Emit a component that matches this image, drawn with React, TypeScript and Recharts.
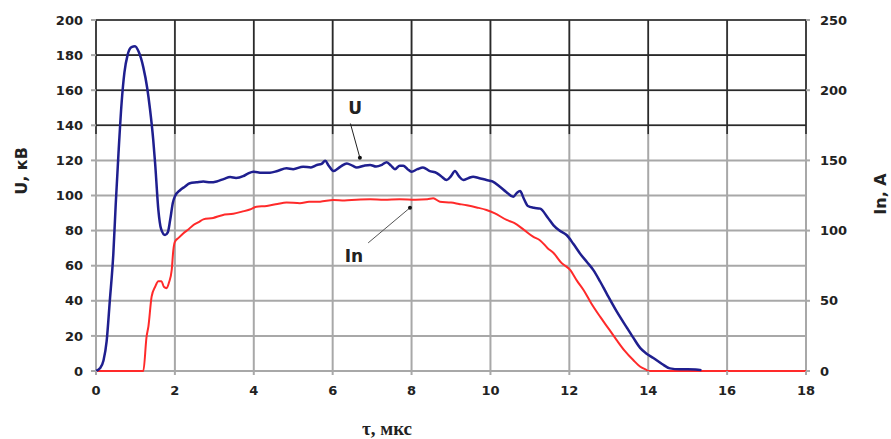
import React from 'react';
import {
  LineChart, Line, XAxis, YAxis, CartesianGrid, ReferenceLine, ReferenceDot,
} from 'recharts';

// ---- data ----
const uTime = [
  0, 0.1, 0.19, 0.27, 0.35, 0.44, 0.5, 0.57, 0.65, 0.72, 0.8, 0.9, 0.99, 1.08, 1.2, 1.3, 1.37, 1.45, 1.5, 1.58,
  1.65, 1.75, 1.82, 1.88, 1.95, 2.0, 2.13, 2.25, 2.38, 2.55, 2.72, 2.9, 3.06, 3.25, 3.4, 3.55, 3.73, 3.85, 3.99, 4.2,
  4.41, 4.6, 4.83, 5.0, 5.25, 5.45, 5.6, 5.72, 5.81, 5.9, 6.02, 6.2, 6.36, 6.5, 6.61, 6.8, 6.95, 7.1, 7.25, 7.37,
  7.48, 7.58, 7.7, 7.79, 7.9, 8.0, 8.15, 8.29, 8.45, 8.64, 8.75, 8.89, 9.0, 9.1, 9.2, 9.31, 9.45, 9.56, 9.7, 9.9,
  10.05, 10.24, 10.4, 10.58, 10.67, 10.75, 10.85, 10.95, 11.1, 11.26, 11.45, 11.6, 11.75, 11.93, 12.1, 12.27, 12.45,
  12.61, 12.78, 12.95, 13.2, 13.45, 13.62, 13.8, 13.95, 14.13, 14.35, 14.55, 14.8, 15.0, 15.2, 15.35,
];
const uValues = [
  0, 1.5, 6, 17, 40, 67, 95, 124, 153, 170, 180, 184.5, 185, 182, 173, 161, 149, 132, 118, 92,
  81, 77.5, 79, 86, 96, 99.5, 103, 105, 107, 107.5, 108, 107.5, 108, 109.5, 110.5, 110, 111, 112.5, 113.6, 113,
  113, 114, 115.5, 115, 116.4, 116, 117.4, 118, 119.8, 117, 114, 116.5, 118.3, 117, 116, 117, 117.4, 116.5, 117.5, 119,
  117, 115, 117, 117, 115, 113.6, 115, 116, 114, 112.8, 111, 108.8, 111, 114, 111, 108.8, 110, 110.7, 110, 108.8,
  108, 105, 102, 99.3, 101.5, 102.5, 98, 94, 93, 92.5, 87.5, 83, 80, 77.5, 72.5, 67, 62,
  57.5, 51, 44, 34, 25, 19, 13, 10, 7.4, 4, 1.5, 1, 1, 0.8, 0.5,
];

const inTime = [
  0, 1.2, 1.28, 1.33, 1.41, 1.5, 1.58, 1.66, 1.72, 1.79, 1.85, 1.92, 1.96, 2.0, 2.1, 2.21, 2.35, 2.47, 2.6, 2.72,
  2.97, 3.2, 3.48, 3.7, 3.9, 4.07, 4.33, 4.6, 4.83, 5.17, 5.4, 5.68, 6.02, 6.3, 6.6, 6.95, 7.3, 7.7, 8.1, 8.4,
  8.55, 8.72, 9.0, 9.2, 9.4, 9.65, 9.9, 10.1, 10.41, 10.6, 10.85, 11.08, 11.26, 11.45, 11.6, 11.8, 12.02, 12.2, 12.36,
  12.55, 12.78, 13.0, 13.2, 13.4, 13.62, 13.8, 13.96, 14.0, 18,
];
const inValues = [
  0, 0, 24, 32, 53, 60, 64, 64, 60, 59, 63, 72, 86, 92, 95, 98, 101, 104, 106, 108,
  109, 111, 112, 113.5, 115, 117, 117.5, 119, 120, 119.5, 120.5, 120.6, 121.8, 121.5, 122, 122.3, 122, 122.3, 122, 122.3,
  123, 120.6, 120, 119, 118, 116.5, 114.7, 112.5, 107.6, 105.5, 100.5, 95.7, 93, 87.5, 84, 77, 72, 64, 57.7,
  48.5, 38.7, 30, 22, 14.5, 7.8, 3, 0.7, 0, 0,
];

const xTicks = [0, 2, 4, 6, 8, 10, 12, 14, 16, 18];
const leftTicks = [0, 20, 40, 60, 80, 100, 120, 140, 160, 180, 200];
const rightTicks = [0, 50, 100, 150, 200, 250];
const darkGridLevels = [140, 160, 180, 200];
const darkGridFrom = 135;

const uLabel = { t: 6.57, v: 150, text: 'U' };
const uArrow = { from: { t: 6.45, v: 141 }, to: { t: 6.69, v: 121.5 } };
const inLabel = { t: 6.54, v: 65.5, text: 'In' };
const inArrow = { from: { t: 6.9, v: 73 }, to: { t: 7.96, v: 93 } };

const uData = uTime.map((t, i) => ({ t, u: uValues[i] }));
const inData = inTime.map((t, i) => ({ t, i: inValues[i] }));

const tickFont = { fontFamily: 'DejaVu Sans', fontWeight: 'bold', fontSize: 13, fill: '#222' };
const gridGrey = '#a8a8a8';
const gridDark = '#2a2a2a';

export default function App() {
  return (
    <div style={{ position: 'absolute', left: 0, top: 0, width: 891, height: 439, background: '#fff' }}>
      <LineChart width={891} height={439} margin={{ top: 20, right: 0, bottom: 0, left: 0 }}>
        <CartesianGrid
          yAxisId="left"
          stroke={gridGrey}
          strokeWidth={2}
          horizontalValues={leftTicks}
          verticalValues={xTicks}
        />
        <XAxis
          dataKey="t"
          type="number"
          domain={[0, 18]}
          ticks={xTicks}
          height={68}
          tickSize={4}
          tickMargin={11}
          tick={tickFont}
          axisLine={false}
          tickLine={{ stroke: gridGrey, strokeWidth: 2 }}
          allowDuplicatedCategory={false}
        />
        <YAxis
          yAxisId="left"
          domain={[0, 200]}
          ticks={leftTicks}
          width={96}
          tickSize={5}
          tickMargin={8}
          tick={tickFont}
          axisLine={false}
          tickLine={{ stroke: gridGrey, strokeWidth: 2 }}
          label={{
            content: () => (
              <text
                x={21}
                y={171}
                transform="rotate(-90 21 171)"
                textAnchor="middle"
                dominantBaseline="central"
                style={{ fontFamily: 'DejaVu Sans', fontWeight: 'bold', fontSize: 16, fill: '#222' }}
              >
                U, кВ
              </text>
            ),
          }}
        />
        <YAxis
          yAxisId="right"
          orientation="right"
          domain={[0, 250]}
          ticks={rightTicks}
          width={85}
          tickSize={4}
          tickMargin={10}
          tick={tickFont}
          axisLine={false}
          tickLine={{ stroke: gridGrey, strokeWidth: 2 }}
          label={{
            content: () => (
              <text
                x={880}
                y={194}
                transform="rotate(-90 880 194)"
                textAnchor="middle"
                dominantBaseline="central"
                style={{ fontFamily: 'DejaVu Sans', fontWeight: 'bold', fontSize: 16, fill: '#222' }}
              >
                In, A
              </text>
            ),
          }}
        />
        {darkGridLevels.map((lv) => (
          <ReferenceLine key={'h' + lv} yAxisId="left" y={lv} stroke={gridDark} strokeWidth={1.6} />
        ))}
        {xTicks.map((x) => (
          <ReferenceLine
            key={'v' + x}
            yAxisId="left"
            segment={[{ x, y: darkGridFrom }, { x, y: 200 }]}
            stroke={gridDark}
            strokeWidth={1.6}
          />
        ))}
        <Line
          yAxisId="right"
          data={inData}
          dataKey="i"
          type="monotone"
          stroke="#ff2a2a"
          strokeWidth={2}
          dot={false}
          isAnimationActive={false}
        />
        <Line
          yAxisId="left"
          data={uData}
          dataKey="u"
          type="monotone"
          stroke="#1f1f8f"
          strokeWidth={2.5}
          dot={false}
          isAnimationActive={false}
        />
        <ReferenceLine
          yAxisId="left"
          segment={[{ x: uArrow.from.t, y: uArrow.from.v }, { x: uArrow.to.t, y: uArrow.to.v }]}
          stroke="#222"
          strokeWidth={1}
        />
        <ReferenceDot yAxisId="left" x={uArrow.to.t} y={uArrow.to.v} r={2} fill="#111" stroke="none" />
        <ReferenceLine
          yAxisId="left"
          segment={[{ x: inArrow.from.t, y: inArrow.from.v }, { x: inArrow.to.t, y: inArrow.to.v }]}
          stroke="#555"
          strokeWidth={1}
        />
        <ReferenceDot yAxisId="left" x={inArrow.to.t} y={inArrow.to.v} r={2} fill="#111" stroke="none" />
        <ReferenceDot
          yAxisId="left"
          x={uLabel.t}
          y={uLabel.v}
          r={0}
          fill="none"
          stroke="none"
          label={{ value: uLabel.text, position: 'center', fontFamily: 'DejaVu Sans', fontWeight: 'bold', fontSize: 17, fill: '#222' }}
        />
        <ReferenceDot
          yAxisId="left"
          x={inLabel.t}
          y={inLabel.v}
          r={0}
          fill="none"
          stroke="none"
          label={{ value: inLabel.text, position: 'center', fontFamily: 'DejaVu Sans', fontWeight: 'bold', fontSize: 17, fill: '#222' }}
        />
        <text
          x={387}
          y={428}
          textAnchor="middle"
          dominantBaseline="central"
          style={{ fontFamily: 'Liberation Serif', fontWeight: 'bold', fontSize: 19, fill: '#222' }}
        >
          τ, мкс
        </text>
      </LineChart>
    </div>
  );
}
